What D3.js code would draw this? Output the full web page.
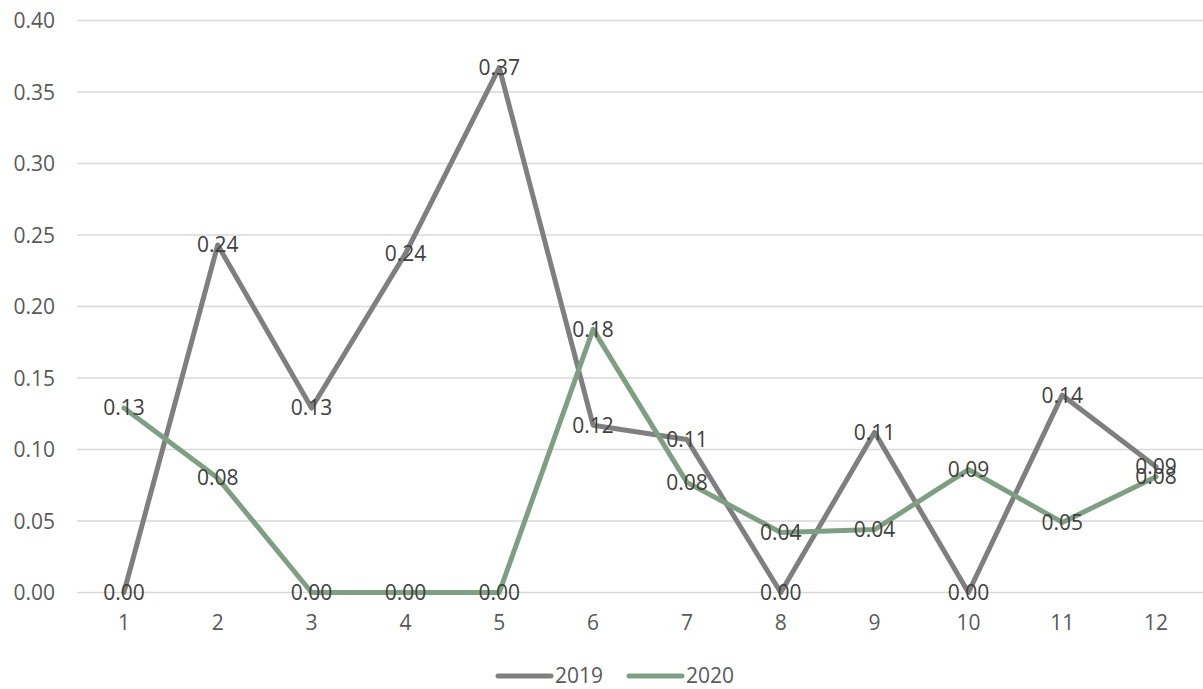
<!DOCTYPE html>
<html>
<head>
<meta charset="utf-8">
<script src="https://cdn.jsdelivr.net/npm/d3@7"></script>
<style>
  html, body { margin: 0; padding: 0; background: #fff; }
  svg { display: block; }
  text { font-family: "Open Sans", Roboto, sans-serif; }
</style>
</head>
<body>
<svg id="chart" width="1203" height="689"></svg>
<script>
// Monthly values for the two years
const months = [1, 2, 3, 4, 5, 6, 7, 8, 9, 10, 11, 12];
const values2019 = [0.00, 0.243, 0.129, 0.237, 0.367, 0.117, 0.107, 0.00, 0.112, 0.00, 0.138, 0.088];
const values2020 = [0.129, 0.080, 0.00, 0.00, 0.00, 0.184, 0.077, 0.042, 0.044, 0.086, 0.049, 0.081];
const yTicks = [0, 0.05, 0.10, 0.15, 0.20, 0.25, 0.30, 0.35, 0.40];
const seriesNames = ["2019", "2020"];
const seriesColors = ["#7f7f7f", "#7f9f85"];

const series = [
  { name: seriesNames[0], values: values2019, color: seriesColors[0] },
  { name: seriesNames[1], values: values2020, color: seriesColors[1] }
];

const svg = d3.select("#chart");
const margin = { left: 77, right: 0, top: 20.5, bottom: 96.5 };
const W = 1203, H = 689;
const fontSize = "21px";

const x = d3.scaleBand()
  .domain(months)
  .range([margin.left, W - margin.right])
  .paddingInner(0).paddingOuter(0);

const y = d3.scaleLinear()
  .domain([0, 0.40])
  .range([H - margin.bottom, margin.top]);

const cx = d => x(d) + x.bandwidth() / 2;

// Horizontal gridlines
svg.append("g")
  .selectAll("line")
  .data(yTicks)
  .join("line")
  .attr("x1", margin.left)
  .attr("x2", W - margin.right)
  .attr("y1", d => y(d))
  .attr("y2", d => y(d))
  .attr("stroke", "#d9d9d9")
  .attr("stroke-width", 1.5);

// Y axis labels
const yAxis = d3.axisLeft(y).tickValues(yTicks).tickFormat(d3.format(".2f")).tickSize(0).tickPadding(0);
const gy = svg.append("g").attr("transform", `translate(55,0)`).call(yAxis);
gy.select(".domain").remove();
gy.selectAll("text")
  .attr("fill", "#595959")
  .style("font-size", fontSize)
  .attr("dy", "0.35em");

// X axis labels
const xAxis = d3.axisBottom(x).tickSize(0).tickPadding(0);
const gx = svg.append("g").attr("transform", `translate(0,${y(0) + 20})`).call(xAxis);
gx.select(".domain").remove();
gx.selectAll("text")
  .attr("fill", "#595959")
  .style("font-size", fontSize)
  .attr("dy", "0.35em")
  .attr("y", 10);

// Lines
const line = d3.line()
  .x((d, i) => cx(months[i]))
  .y(d => y(d));

svg.append("g")
  .selectAll("path")
  .data(series)
  .join("path")
  .attr("d", s => line(s.values))
  .attr("fill", "none")
  .attr("stroke", s => s.color)
  .attr("stroke-width", 5)
  .attr("stroke-linejoin", "round")
  .attr("stroke-linecap", "round");

// Data labels centred on each point
const fmt = d3.format(".2f");
series.forEach(s => {
  svg.append("g")
    .selectAll("text")
    .data(s.values)
    .join("text")
    .attr("x", (d, i) => cx(months[i]))
    .attr("y", d => y(d))
    .attr("dy", "0.35em")
    .attr("text-anchor", "middle")
    .attr("fill", "#404040")
    .style("font-size", fontSize)
    .text(d => fmt(d));
});

// Legend
const legendY = 676;
const legendItems = [
  { name: seriesNames[0], color: seriesColors[0], x0: 498 },
  { name: seriesNames[1], color: seriesColors[1], x0: 629 }
];
const lg = svg.append("g");
legendItems.forEach(it => {
  lg.append("line")
    .attr("x1", it.x0).attr("x2", it.x0 + 53)
    .attr("y1", legendY).attr("y2", legendY)
    .attr("stroke", it.color)
    .attr("stroke-width", 5)
    .attr("stroke-linecap", "round");
  lg.append("text")
    .attr("x", it.x0 + 57)
    .attr("y", legendY)
    .attr("dy", "0.35em")
    .attr("fill", "#595959")
    .style("font-size", fontSize)
    .text(it.name);
});
</script>
</body>
</html>
